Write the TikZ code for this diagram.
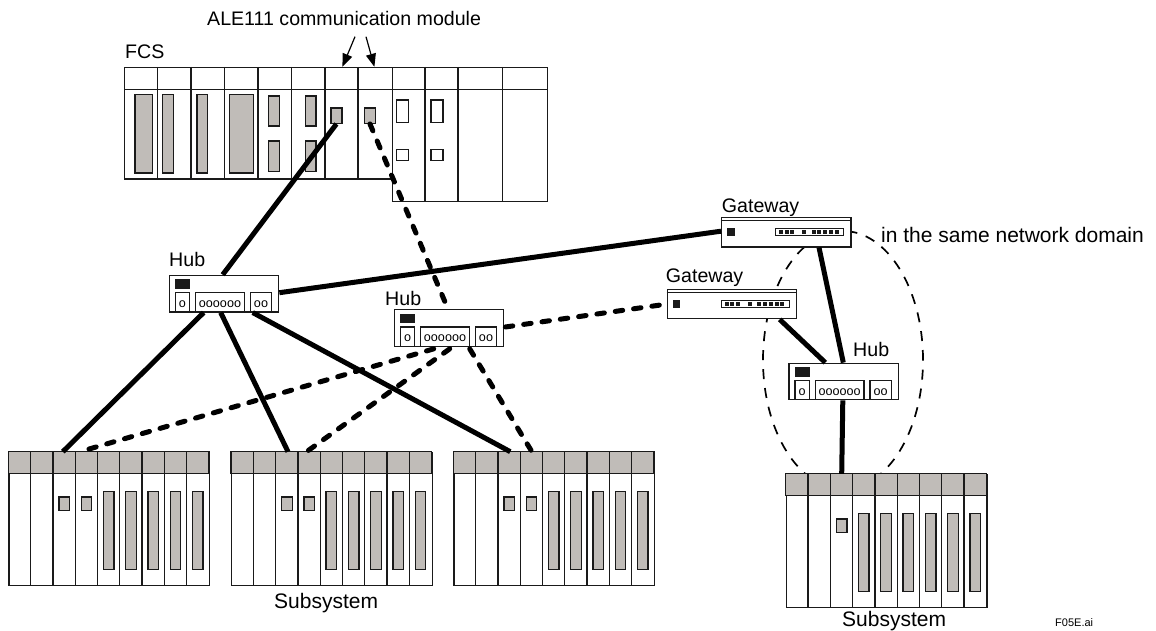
\documentclass[tikz,border=0pt]{standalone}
\usepackage{fontspec}
\setmainfont{Liberation Sans}
\usetikzlibrary{arrows.meta,calc,shapes.geometric}
\definecolor{modgray}{HTML}{C0BCB8}
\definecolor{ink}{HTML}{1A1A1A}
\tikzset{
  x=1pt,y=-1pt,
  thinline/.style={draw=ink,line width=1.25pt},
  grayfill/.style={thinline,fill=modgray},
  boxframe/.style={thinline,fill=white,rectangle,inner sep=0pt,anchor=north west},
  lab/.style={anchor=base west,inner sep=0pt,font=\fontsize{19.6}{22}\selectfont,text=black},
  labwide/.style={anchor=base west,inner sep=0pt,font=\fontsize{21}{22}\selectfont,text=black},
  smalltxt/.style={anchor=base,inner sep=0pt,font=\fontsize{12.6}{14}\selectfont,text=black},
  wire/.style={draw=black,line width=5pt},
  dashwire/.style={draw=black,line width=5pt,line cap=round,dash pattern=on 7.5pt off 11pt},
  pointer/.style={draw=black,line width=1.2pt,-{Triangle[length=13pt,width=10pt]}},
  domainline/.style={draw=black,line width=1.7pt,dash pattern=on 10pt off 9pt},
}
\newcommand{\hubunit}[3]{%
  \node[boxframe,minimum width=109.4pt,minimum height=36.6pt] (#1) at (#2,#3) {};
  \begin{scope}[shift={(#2,#3)}]
    \fill[ink] (6.6,4.6) rectangle (21.3,14.3);
    \draw[thinline] (6.6,36.6) -- (6.6,18) -- (21,18) -- (21,36.6);
    \draw[thinline] (27,36.6) -- (27,18) -- (75.6,18) -- (75.6,36.6);
    \draw[thinline] (81.6,36.6) -- (81.6,18) -- (103,18) -- (103,36.6);
    \node[smalltxt] (#1-a) at (13.8,32.6) {o};
    \node[smalltxt] (#1-b) at (51.3,32.6) {oooooo};
    \node[smalltxt] (#1-c) at (92.3,32.6) {oo};
  \end{scope}}
\newcommand{\gateunit}[3]{%
  \node[boxframe,minimum width=129.3pt,minimum height=29.6pt] (#1) at (#2,#3) {};
  \begin{scope}[shift={(#2,#3)}]
    \draw[thinline] (0,4) -- (129.3,4);
    \fill[ink] (6.4,11.3) rectangle (13.7,19);
    \draw[thinline] (54.7,11.6) rectangle (122.7,19);
    \foreach \bx in {58,63.5,69,81,90.5,96.2,102,107.8,113.6}
      \fill[ink] (\bx,13) rectangle ++(4,4.6);
  \end{scope}}
\newcommand{\rackunit}[5]{% name,x,y,small columns,tall columns
  \node[boxframe,minimum width=200.7pt,minimum height=133.4pt] (#1) at (#2,#3) {};
  \begin{scope}[shift={(#2,#3)}]
    \draw[grayfill] (0,0) rectangle (200.7,22);
    \foreach \c in {1,...,8} \draw[thinline] ({\c*22.3},0) -- ({\c*22.3},133.4);
    \foreach \c in {#4} \draw[grayfill] ({\c*22.3+6},45.3) rectangle ++(10.6,13.7);
    \foreach \c in {#5} \draw[grayfill] ({\c*22.3+5.8},39.6) rectangle ++(10.6,78);
  \end{scope}}
\begin{document}
\begin{tikzpicture}
\useasboundingbox (0,0) rectangle (1156,631);
\fill[white] (0,0) rectangle (1156,631);

% dashed domain outline
\node[ellipse,domainline,fill=none,inner sep=0pt,minimum width=160pt,minimum height=258pt] (netdomain) at (843,360) {};

% FCS
\node[boxframe,minimum width=268pt,minimum height=111.5pt] (fcs) at (124,66.8) {};
\node[boxframe,minimum width=155.3pt,minimum height=133.9pt] (fcsright) at (391.7,66.8) {};
\draw[thinline] (124,89.3) -- (547,89.3);
\foreach \cx in {157.7,191,224.7,258,291.7,325,358} \draw[thinline] (\cx,66.8) -- (\cx,178.3);
\foreach \cx in {425,458,502.7} \draw[thinline] (\cx,66.8) -- (\cx,200.7);
\draw[grayfill] (135,94.7) rectangle (152.7,173);
\draw[grayfill] (162.7,94.7) rectangle (173.3,173);
\draw[grayfill] (197,94.7) rectangle (207.7,173);
\draw[grayfill] (229.7,94.7) rectangle (253.7,173);
\draw[grayfill] (268.7,96) rectangle (279.3,126);
\draw[grayfill] (268.7,141) rectangle (279.3,171.3);
\draw[grayfill] (305.7,96) rectangle (316,126);
\draw[grayfill] (305.7,141) rectangle (316,171.3);
\node[boxframe,fill=modgray,minimum width=11pt,minimum height=15.4pt] (aleA) at (330.3,107.3) {};
\node[boxframe,fill=modgray,minimum width=10.7pt,minimum height=15.4pt] (aleB) at (364,107.3) {};
\draw[thinline] (396.7,100) rectangle (408.3,122.7);
\draw[thinline] (396.7,149.7) rectangle (408.3,160.7);
\draw[thinline] (431,100) rectangle (443,122.7);
\draw[thinline] (431,149.7) rectangle (443,160.7);

% racks
\rackunit{rackA}{8.3}{451.7}{2,3}{4,5,6,7,8}
\rackunit{rackB}{231}{451.7}{2,3}{4,5,6,7,8}
\rackunit{rackC}{453.3}{451.7}{2,3}{4,5,6,7,8}
\rackunit{rackD}{785.7}{473.8}{2}{3,4,5,6,7,8}

% hubs, gateways
\hubunit{hubA}{168.7}{274.7}
\hubunit{hubB}{393.7}{309}
\hubunit{hubC}{788.3}{362.6}
\gateunit{gateA}{721}{216.7}
\gateunit{gateB}{666.7}{288.6}

% connectors
\draw[wire] (aleA.south) -- ($(hubA.north west)+(54,0)$);
\draw[wire] ($(hubA.north east)+(0,18)$) -- ($(gateA.north west)+(0,14.5)$);
\draw[wire] ($(hubA.south west)+(35,0)$) -- ($(rackA.north west)+(54.5,0)$);
\draw[wire] ($(hubA.south west)+(52,0)$) -- ($(rackB.north west)+(57,0)$);
\draw[wire] ($(hubA.south west)+(84,0)$) -- ($(rackC.north west)+(57,0)$);
\draw[wire] ($(gateA.south west)+(98,0)$) -- ($(hubC.north west)+(55,0)$);
\draw[wire] ($(gateB.south west)+(113,0)$) -- ($(hubC.north west)+(37,0)$);
\draw[wire] ($(hubC.south west)+(54.5,0)$) -- ($(rackD.north west)+(56,0)$);
\draw[dashwire] (aleB.south) -- ($(hubB.north west)+(53,-3)$);
\draw[dashwire] ($(hubB.north east)+(1,18)$) -- ($(gateB.north west)+(0,15.5)$);
\draw[dashwire] ($(hubB.south west)+(40,2)$) -- ($(rackA.north west)+(75,-1)$);
\draw[dashwire] ($(hubB.south west)+(56,2)$) -- ($(rackB.north west)+(77,-1)$);
\draw[dashwire] ($(hubB.south west)+(76,2)$) -- ($(rackC.north west)+(78,-1)$);

% pointers
\coordinate (ptA) at (355,36.7);
\coordinate (ptB) at (366,36.7);
\draw[pointer] (ptA) -- ($(fcs.north west)+(218.4,0)$);
\draw[pointer] (ptB) -- ($(fcs.north west)+(250.4,0)$);

% labels
\node[lab] (tAle) at (207,26) {ALE111 communication module};
\node[lab] (tFcs) at (125,59) {FCS};
\node[lab] (tHubA) at (169,266.7) {Hub};
\node[lab] (tHubB) at (385,305) {Hub};
\node[lab] (tHubC) at (853,356.7) {Hub};
\node[lab] (tGateA) at (721.7,212.7) {Gateway};
\node[lab] (tGateB) at (665.7,282.7) {Gateway};
\node[labwide] (tDomain) at (881,242) {in the same network domain};
\node[labwide] (tSubA) at (274,608) {Subsystem};
\node[labwide] (tSubB) at (842,626.7) {Subsystem};
\node[anchor=base west,inner sep=0pt,font=\fontsize{11}{12}\selectfont] (tFile) at (1055,626.7) {F05E.ai};
\end{tikzpicture}
\end{document}
